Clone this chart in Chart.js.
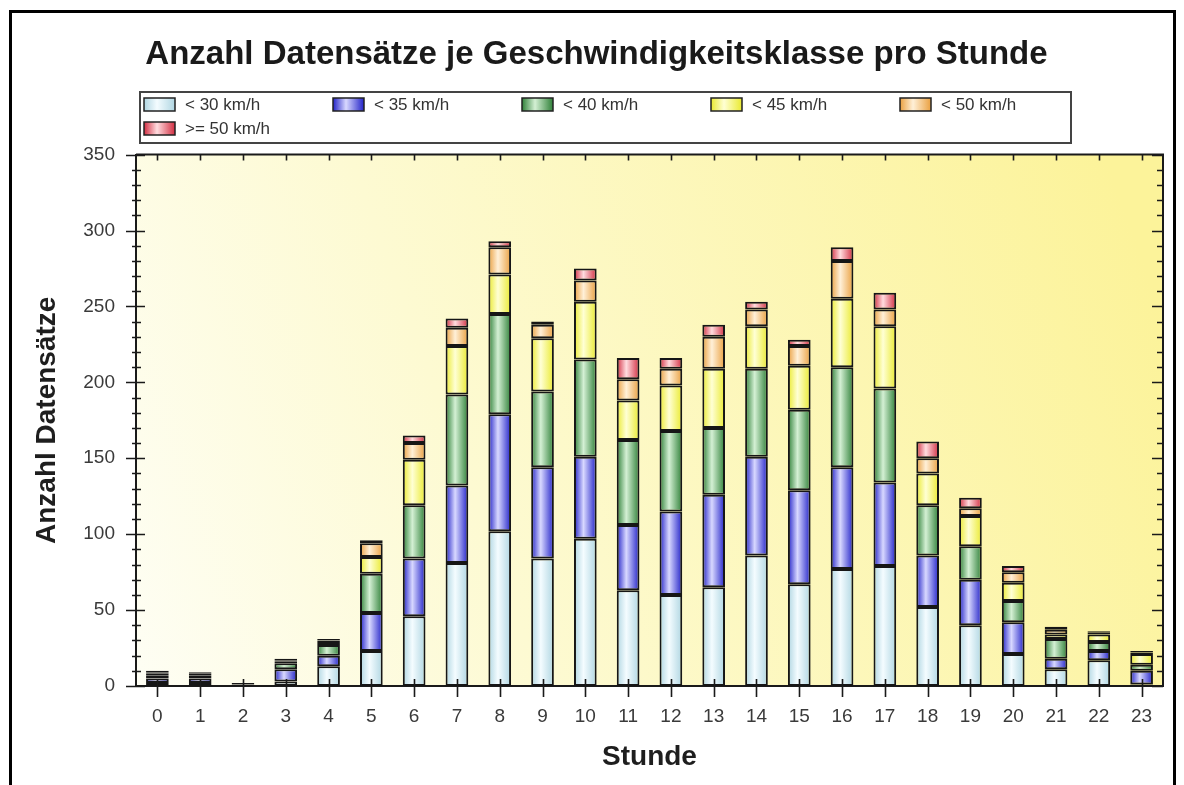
<!DOCTYPE html>
<html>
<head>
<meta charset="utf-8">
<script src="https://cdn.jsdelivr.net/npm/chart.js@4/dist/chart.umd.min.js"></script>
<style>
  html, body { margin: 0; padding: 0; background: #fff; }
  #wrap { position: relative; width: 1184px; height: 785px; overflow: hidden; }
  #chart { position: absolute; left: 0; top: 0; }
  #frame {
    position: absolute; left: 9px; top: 10px; width: 1161px; height: 820px;
    border: 3px solid #000; pointer-events: none;
  }
</style>
</head>
<body>
<div id="wrap">
  <canvas id="chart" width="1184" height="785"></canvas>
  <div id="frame"></div>
</div>
<script>
const hours = ["0", "1", "2", "3", "4", "5", "6", "7", "8", "9", "10", "11",
  "12", "13", "14", "15", "16", "17", "18", "19", "20", "21", "22", "23"];

const below30 = [2, 2, 1, 3, 13, 23, 46, 81, 102, 84, 97, 63, 60, 65, 86, 67, 77, 79, 52, 40, 21, 11, 17, 1];
const below35 = [3, 3, 1, 8, 7, 25, 38, 51, 77, 60, 54, 43, 55, 61, 65, 62, 67, 55, 34, 30, 21, 7, 6, 9];
const below40 = [2, 1, 0, 4, 7, 26, 35, 60, 66, 50, 64, 56, 53, 44, 58, 53, 66, 62, 33, 22, 14, 13, 6, 4];
const below45 = [1, 1, 0, 1, 2, 11, 30, 32, 26, 35, 38, 26, 30, 39, 28, 29, 45, 41, 21, 20, 12, 3, 5, 7];
const below50 = [1, 1, 0, 1, 1, 9, 11, 12, 18, 9, 14, 14, 11, 21, 11, 13, 25, 11, 10, 5, 7, 3, 1, 1];
const from50 = [1, 1, 0, 1, 1, 2, 5, 6, 4, 2, 8, 14, 7, 8, 5, 4, 9, 11, 11, 7, 4, 2, 1, 1];

const seriesLabels = ["< 30 km/h", "< 35 km/h", "< 40 km/h", "< 45 km/h", "< 50 km/h", ">= 50 km/h"];
const seriesValues = [below30, below35, below40, below45, below50, from50];
// [edge colour, centre highlight]
const seriesColors = [
  ["#b0d6e2", "#f4fcff"],
  ["#2222c8", "#d8d8ff"],
  ["#2f8038", "#d4f0d4"],
  ["#eaea30", "#ffffd4"],
  ["#eaa040", "#fff0d8"],
  ["#d22e42", "#ffdcdf"],
];

const BAR_PCT = 0.53;
const FONT = "Arial, 'Liberation Sans', sans-serif";

const cylinder = (ctx, x0, x1, [edge, mid]) => {
  const g = ctx.createLinearGradient(x0, 0, x1, 0);
  g.addColorStop(0, edge);
  g.addColorStop(0.42, mid);
  g.addColorStop(1, edge);
  return g;
};

const barFill = (colors) => (context) => {
  const chart = context.chart;
  if (!chart.chartArea || context.dataIndex === undefined) return colors[0];
  const xs = chart.scales.x;
  const cx = xs.getPixelForValue(context.dataIndex);
  const half = (xs.width / hours.length) * BAR_PCT / 2;
  return cylinder(chart.ctx, cx - half, cx + half, colors);
};

const plotBackground = {
  id: "plotBackground",
  beforeDraw(chart) {
    const { ctx, chartArea: a } = chart;
    const g = ctx.createLinearGradient(a.left, a.bottom, a.right, a.top + a.height * 0.3);
    g.addColorStop(0, "#fefef4");
    g.addColorStop(0.35, "#fdfad2");
    g.addColorStop(1, "#fcf39a");
    ctx.save();
    ctx.fillStyle = g;
    ctx.fillRect(a.left, a.top, a.width, a.height);
    ctx.restore();
  },
};

const axisTicks = {
  id: "axisTicks",
  afterDraw(chart) {
    const { ctx, chartArea: a, scales: { x, y } } = chart;
    ctx.save();
    ctx.strokeStyle = "#1a1a1a";
    ctx.lineWidth = 2;
    ctx.beginPath();
    ctx.moveTo(a.left, a.top);
    ctx.lineTo(a.right, a.top);
    ctx.lineTo(a.right, a.bottom);
    ctx.stroke();

    ctx.lineWidth = 1.6;
    ctx.beginPath();
    for (let v = y.min; v <= y.max; v += 10) {
      const py = Math.round(y.getPixelForValue(v)) + 0.5;
      const major = v % 50 === 0;
      ctx.moveTo(a.left - (major ? 10 : 4), py);
      ctx.lineTo(a.left + (major ? 9 : 5), py);
      ctx.moveTo(a.right - (major ? 11 : 6), py);
      ctx.lineTo(a.right, py);
    }
    hours.forEach((_, i) => {
      const px = Math.round(x.getPixelForValue(i)) + 0.5;
      ctx.moveTo(px, a.bottom - 7);
      ctx.lineTo(px, a.bottom + 11);
      ctx.moveTo(px, a.top);
      ctx.lineTo(px, a.top + 6);
    });
    ctx.stroke();
    ctx.restore();
  },
};

const boxLegend = {
  id: "boxLegend",
  afterDraw(chart) {
    const { ctx, chartArea: a } = chart;
    const left = a.left + 4, top = 92, width = 931, height = 51;
    ctx.save();
    ctx.fillStyle = "#fff";
    ctx.fillRect(left, top, width, height);
    ctx.strokeStyle = "#444";
    ctx.lineWidth = 2;
    ctx.strokeRect(left, top, width, height);
    ctx.font = "17px " + FONT;
    ctx.textBaseline = "middle";
    seriesLabels.forEach((label, i) => {
      const col = i % 5, row = Math.floor(i / 5);
      const bx = left + 4 + col * 189;
      const by = top + 12 + row * 24;
      ctx.fillStyle = cylinder(ctx, bx, bx + 31, seriesColors[i]);
      ctx.fillRect(bx, by - 6, 31, 13);
      ctx.strokeStyle = "#222";
      ctx.lineWidth = 1.5;
      ctx.strokeRect(bx, by - 6, 31, 13);
      ctx.fillStyle = "#333";
      ctx.fillText(label, bx + 41, by + 1);
    });
    ctx.restore();
  },
};

new Chart(document.getElementById("chart").getContext("2d"), {
  type: "bar",
  data: {
    labels: hours,
    datasets: seriesLabels.map((label, i) => ({
      label,
      data: seriesValues[i],
      backgroundColor: barFill(seriesColors[i]),
      borderColor: "#161616",
      borderWidth: 2,
      borderSkipped: false,
      barPercentage: BAR_PCT,
      categoryPercentage: 1,
    })),
  },
  options: {
    responsive: false,
    animation: false,
    layout: { padding: { left: 30, right: 21, top: 0, bottom: 0 } },
    scales: {
      x: {
        stacked: true,
        grid: { display: false, drawTicks: false },
        border: { display: true, color: "#1a1a1a", width: 2 },
        ticks: { color: "#3a3a3a", font: { family: FONT, size: 19 }, padding: 19 },
        title: {
          display: true,
          text: "Stunde",
          color: "#1e1e1e",
          font: { family: FONT, size: 28, weight: "bold" },
          padding: { top: 0, bottom: 11 },
        },
        afterFit: (scale) => { scale.height = 99; },
      },
      y: {
        stacked: true,
        min: 0,
        max: 350,
        grid: { display: false, drawTicks: false },
        border: { display: true, color: "#1a1a1a", width: 2 },
        ticks: { stepSize: 50, color: "#3a3a3a", font: { family: FONT, size: 19 }, padding: 21 },
        title: {
          display: true,
          text: "Anzahl Datensätze",
          color: "#1e1e1e",
          font: { family: FONT, size: 28, weight: "bold" },
          padding: { top: 0, bottom: 0 },
        },
        afterFit: (scale) => { scale.width = 106; },
      },
    },
    plugins: {
      legend: { display: false },
      tooltip: { enabled: false },
      title: {
        display: true,
        text: "Anzahl Datensätze je Geschwindigkeitsklasse pro Stunde",
        color: "#1a1a1a",
        font: { family: FONT, size: 33, weight: "bold" },
        padding: { top: 35, bottom: 80 },
      },
    },
  },
  plugins: [plotBackground, axisTicks, boxLegend],
});
</script>
</body>
</html>
